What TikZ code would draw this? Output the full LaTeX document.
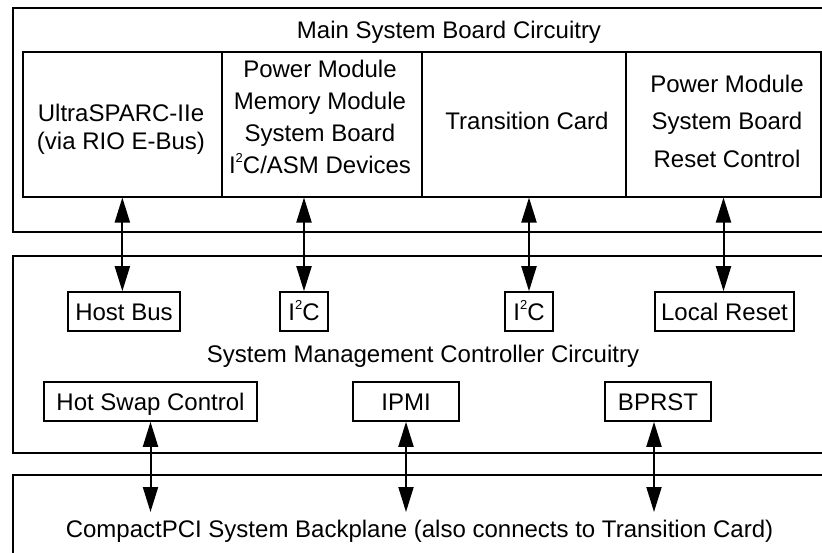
\documentclass[tikz,border=0pt]{standalone}
\usepackage{fontspec}
\setmainfont{Liberation Sans}
\usetikzlibrary{arrows.meta}
\newcommand{\sqr}{\raisebox{0.42em}{\fontsize{13}{13}\selectfont 2}}
\begin{document}
\begin{tikzpicture}[x=1pt,y=-1pt,
  every node/.style={font=\fontsize{24}{28}\selectfont},
  frame/.style={draw,line width=2pt,inner sep=0pt,anchor=north west},
  cell/.style={draw,line width=1.6pt,inner sep=0pt,minimum height=145pt},
  tag/.style={draw,line width=1.6pt,inner sep=0pt,minimum height=39pt,text height=17pt,text depth=0pt},
  lbl/.style={anchor=base,inner sep=0pt,align=center},
  link/.style={line width=2pt,{Triangle[length=25pt,width=15pt]}-{Triangle[length=25pt,width=15pt]}}]
\useasboundingbox (0,0) rectangle (822,552);
\clip (0,0) rectangle (822,552);

% three stacked circuit areas (open to the right)
\node[frame,minimum width=840pt,minimum height=223.5pt] (board) at (11.5,7) {};
\node[frame,minimum width=840pt,minimum height=197.5pt] (smc) at (11.5,254.5) {};
\node[frame,minimum width=840pt,minimum height=120pt] (backplane) at (11.5,474) {};

% main board subsystems
\node[cell,minimum width=199.3pt] (col1) at (122.35,124.2) {};
\node[cell,minimum width=200pt] (col2) at (322,124.2) {};
\node[cell,minimum width=204pt] (col3) at (524,124.2) {};
\node[cell,minimum width=195pt] (col4) at (723.5,124.2) {};

% multi-line labels are anchored at the baseline of their last line
\node[lbl] (boardT) at (449,38) {Main System Board Circuitry};
\node[lbl,font=\fontsize{24}{28}\selectfont] (col1T) at (121,149) {UltraSPARC-IIe\\(via RIO E-Bus)};
\node[lbl,font=\fontsize{24}{32}\selectfont] (col2T) at (320,173)
  {Power Module\\Memory Module\\System Board\\I\sqr C/ASM Devices};
\node[lbl] (col3T) at (527,129) {Transition Card};
\node[lbl,font=\fontsize{24}{37.5}\selectfont] (col4T) at (727,167)
  {Power Module\\System Board\\Reset Control};

% controller interfaces
\node[tag,minimum width=112pt] (hb) at (124,311.5) {Host Bus};
\node[tag,minimum width=48pt] (ic1) at (304,311.5) {I\sqr C};
\node[tag,minimum width=48pt] (ic2) at (529,311.5) {I\sqr C};
\node[tag,minimum width=139pt] (lr) at (724.5,311.5) {Local Reset};
\node[lbl] (smcT) at (423,362) {System Management Controller Circuitry};
\node[tag,minimum width=213pt] (hsc) at (150.5,401.5) {Hot Swap Control};
\node[tag,minimum width=106pt] (ipmi) at (406,401.5) {IPMI};
\node[tag,minimum width=106pt] (bprst) at (658,401.5) {BPRST};

\node[lbl] (backplaneT) at (419.5,537) {CompactPCI System Backplane (also connects to Transition Card)};
\coordinate (bpline) at (0,512);

% bidirectional links
\draw[link] (col1.south) -- (col1.south |- hb.north);
\draw[link] (ic1.north |- col2.south) -- (ic1.north);
\draw[link] (ic2.north |- col3.south) -- (ic2.north);
\draw[link] (col4.south) -- (col4.south |- lr.north);
\draw[link] (hsc.south) -- (hsc.south |- bpline);
\draw[link] (ipmi.south) -- (ipmi.south |- bpline);
\draw[link] ([xshift=-4pt]bprst.south) -- ([xshift=-4pt]bprst.south |- bpline);
\end{tikzpicture}
\end{document}
